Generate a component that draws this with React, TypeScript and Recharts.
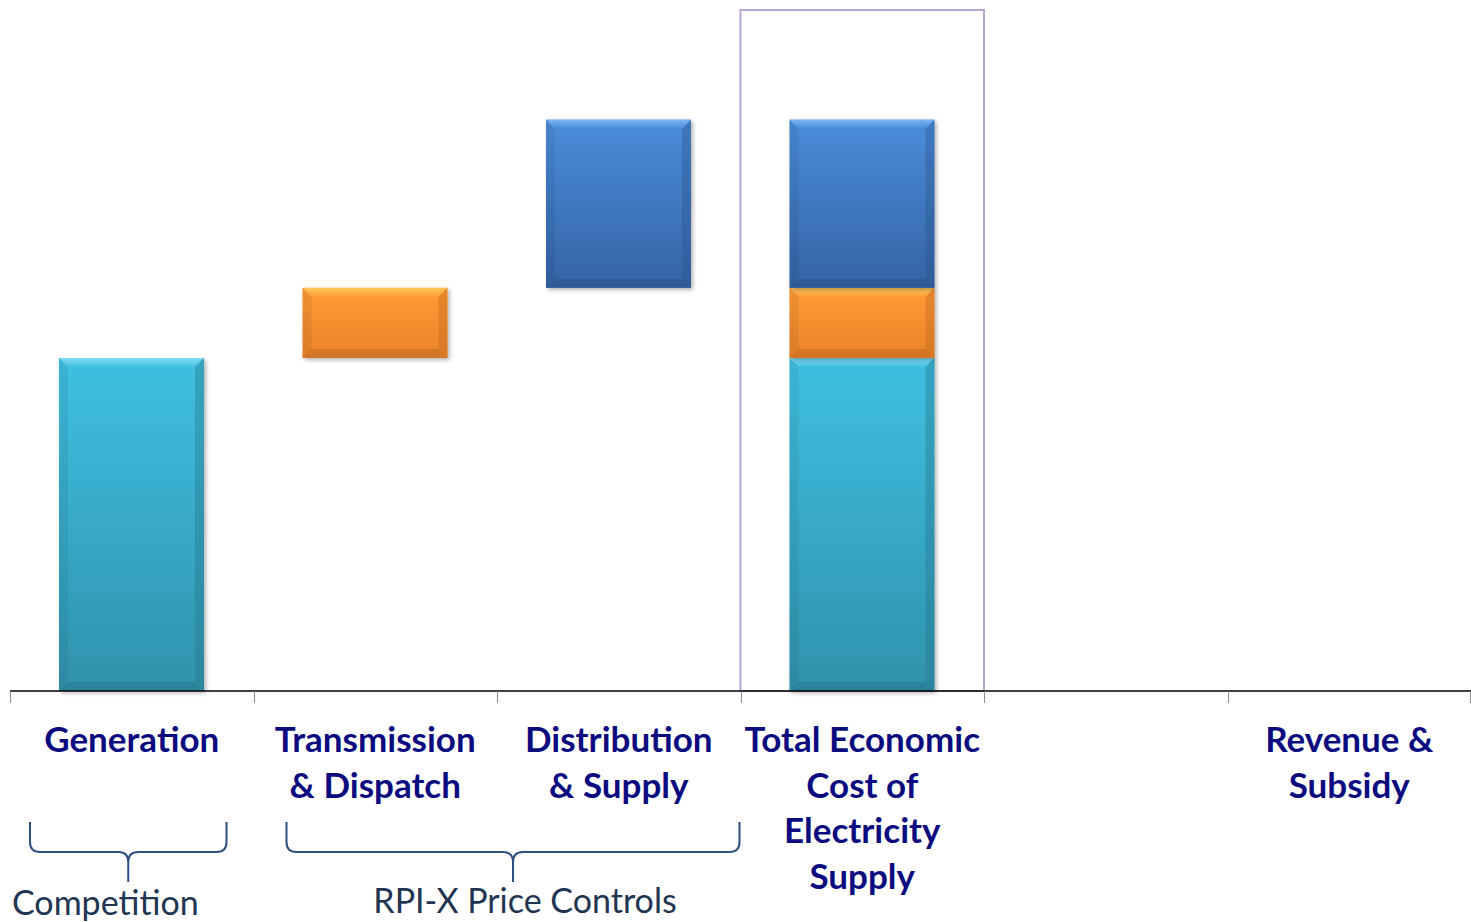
import React from "react";
import { ComposedChart, Bar, XAxis, YAxis, ReferenceArea } from "recharts";

const categories = [
  "Generation",
  "Transmission & Dispatch",
  "Distribution & Supply",
  "Total Economic Cost of Electricity Supply",
  "",
  "Revenue & Subsidy",
];
const categoryLines = [
  ["Generation"],
  ["Transmission", "& Dispatch"],
  ["Distribution", "& Supply"],
  ["Total Economic", "Cost of", "Electricity", "Supply"],
  [],
  ["Revenue &", "Subsidy"],
];
const baseValues = [0, 48.9, 59.2, 0, null, null];
const generationValues = [48.9, null, null, 48.9, null, null];
const transmissionValues = [null, 10.3, null, 10.3, null, null];
const distributionValues = [null, null, 24.7, 24.7, null, null];
const groupLabels = ["Competition", "RPI-X Price Controls"];
const groupRanges = [
  [0, 0],
  [1, 2],
];

const data = categories.map((name, i) => ({
  name,
  base: baseValues[i],
  generation: generationValues[i],
  transmission: transmissionValues[i],
  distribution: distributionValues[i],
}));

const W = 1471;
const H = 922;
const M = { top: 10, right: 0, bottom: 0, left: 10 };
const AXIS_H = 231;
const BAND = (W - M.left - M.right) / categories.length;

const palettes: Record<string, any> = {
  gen: { top: "#3fc0e2", bottom: "#2f92ac", hi: "#86ddf4", dark: "#256f85" },
  trans: { top: "#ff9b35", bottom: "#e9832a", hi: "#ffc95f", dark: "#b8641c" },
  dist: { top: "#4b8ddb", bottom: "#3463a5", hi: "#7db3f2", dark: "#2a4f86" },
};

function BevelBar(props: any) {
  const { x, y, width, height, pal, id } = props;
  if (!height || height <= 0 || !width) return null;
  const b = Math.min(9, width / 4, height / 4);
  const x2 = x + width;
  const y2 = y + height;
  return (
    <g>
      <defs>
        <linearGradient id={`g-${id}`} x1="0" y1="0" x2="0" y2="1">
          <stop offset="0%" stopColor={pal.top} />
          <stop offset="100%" stopColor={pal.bottom} />
        </linearGradient>
        <linearGradient id={`gt-${id}`} x1="0" y1="0" x2="0" y2="1">
          <stop offset="0%" stopColor={pal.hi} />
          <stop offset="100%" stopColor={pal.top} />
        </linearGradient>
        <filter id="barShadow" x="-10%" y="-10%" width="125%" height="125%">
          <feDropShadow dx="2" dy="2" stdDeviation="2" floodColor="#000" floodOpacity="0.3" />
        </filter>
      </defs>
      <g filter="url(#barShadow)">
        <rect x={x} y={y} width={width} height={height} fill={`url(#g-${id})`} />
      </g>
      <polygon points={`${x},${y} ${x2},${y} ${x2 - b},${y + b} ${x + b},${y + b}`} fill={`url(#gt-${id})`} />
      <polygon points={`${x},${y} ${x + b},${y + b} ${x + b},${y2 - b} ${x},${y2}`} fill="#000" fillOpacity={0.06} />
      <polygon points={`${x2},${y} ${x2},${y2} ${x2 - b},${y2 - b} ${x2 - b},${y + b}`} fill={pal.dark} fillOpacity={0.35} />
      <polygon points={`${x},${y2} ${x + b},${y2 - b} ${x2 - b},${y2 - b} ${x2},${y2}`} fill={pal.dark} fillOpacity={0.45} />
    </g>
  );
}

function Brace({ x1, x2, top, mid, tip }: any) {
  const c = (x1 + x2) / 2;
  const r = 10;
  const d = `M ${x1} ${top} L ${x1} ${mid - r} Q ${x1} ${mid} ${x1 + r} ${mid} L ${c - r} ${mid} Q ${c} ${mid} ${c} ${mid + r} L ${c} ${tip}
             M ${x2} ${top} L ${x2} ${mid - r} Q ${x2} ${mid} ${x2 - r} ${mid} L ${c + r} ${mid} Q ${c} ${mid} ${c} ${mid + r}`;
  return <path d={d} fill="none" stroke="#2d5080" strokeWidth={2} />;
}

const braceInsets = [
  [20, 27],
  [33, 1],
];
const groupLabelPos = [
  { dx: 2, anchor: "start", y: 915 },
  { dx: 0, anchor: "middle", y: 913, center: true },
];

function CategoryTick(props: any) {
  const { x, index } = props;
  const lines = categoryLines[index] || [];
  const left = Math.round(x - BAND / 2) + 0.5;
  const right = Math.round(x + BAND / 2) - 0.5;
  const axisY = M.top + (H - M.top - M.bottom - AXIS_H);
  return (
    <g>
      <line x1={left} y1={axisY} x2={left} y2={axisY + 12} stroke="#8c8c8c" strokeWidth={1} />
      {index === categories.length - 1 && (
        <line x1={right} y1={axisY} x2={right} y2={axisY + 12} stroke="#8c8c8c" strokeWidth={1} />
      )}
      {lines.map((t: string, i: number) => (
        <text
          key={i}
          x={x}
          y={axisY + 61 + i * 45.5}
          textAnchor="middle"
          fontFamily="Lato, 'Open Sans', sans-serif"
          fontWeight={700}
          fontSize={35}
          fill="#0b0b80"
        >
          {t}
        </text>
      ))}
      {index === 0 &&
        groupRanges.map((rg, gi) => {
          const gx1 = M.left + rg[0] * BAND + braceInsets[gi][0];
          const gx2 = M.left + (rg[1] + 1) * BAND - braceInsets[gi][1];
          const pos = groupLabelPos[gi];
          const lx = pos.center ? (gx1 + gx2) / 2 + 12 : M.left + pos.dx;
          return (
            <g key={gi}>
              <Brace x1={gx1} x2={gx2} top={822} mid={852} tip={882} />
              <text
                x={lx}
                y={pos.y}
                textAnchor={pos.anchor as any}
                fontFamily="Lato, 'Open Sans', sans-serif"
                fontSize={34}
                fill="#1f3552"
              >
                {groupLabels[gi]}
              </text>
            </g>
          );
        })}
    </g>
  );
}

export default function App() {
  return (
    <div style={{ position: "absolute", left: 0, top: 0, width: W, height: H, background: "#fff" }}>
      <ComposedChart width={W} height={H} data={data} margin={M} barSize={145}>
        <YAxis hide type="number" domain={[0, 100]} />
        <XAxis
          dataKey="name"
          interval={0}
          height={AXIS_H}
          tickLine={false}
          tickSize={0}
          stroke="#000"
          axisLine={{ stroke: "#000", strokeWidth: 1.5 }}
          tick={<CategoryTick />}
        />
        <ReferenceArea
          x1={categories[3]}
          x2={categories[3]}
          y1={0}
          y2={100}
          fill="none"
          stroke="#b7a6d4"
          strokeWidth={2}
          ifOverflow="visible"
        />
        <Bar dataKey="base" stackId="a" fill="transparent" isAnimationActive={false} shape={() => null} />
        <Bar
          dataKey="generation"
          stackId="a"
          fill="#3fc0e2"
          isAnimationActive={false}
          shape={(p: any) => <BevelBar {...p} pal={palettes.gen} id="gen" />}
        />
        <Bar
          dataKey="transmission"
          stackId="a"
          fill="#ff9b35"
          isAnimationActive={false}
          shape={(p: any) => <BevelBar {...p} pal={palettes.trans} id="trans" />}
        />
        <Bar
          dataKey="distribution"
          stackId="a"
          fill="#4b8ddb"
          isAnimationActive={false}
          shape={(p: any) => <BevelBar {...p} pal={palettes.dist} id="dist" />}
        />
      </ComposedChart>
    </div>
  );
}
